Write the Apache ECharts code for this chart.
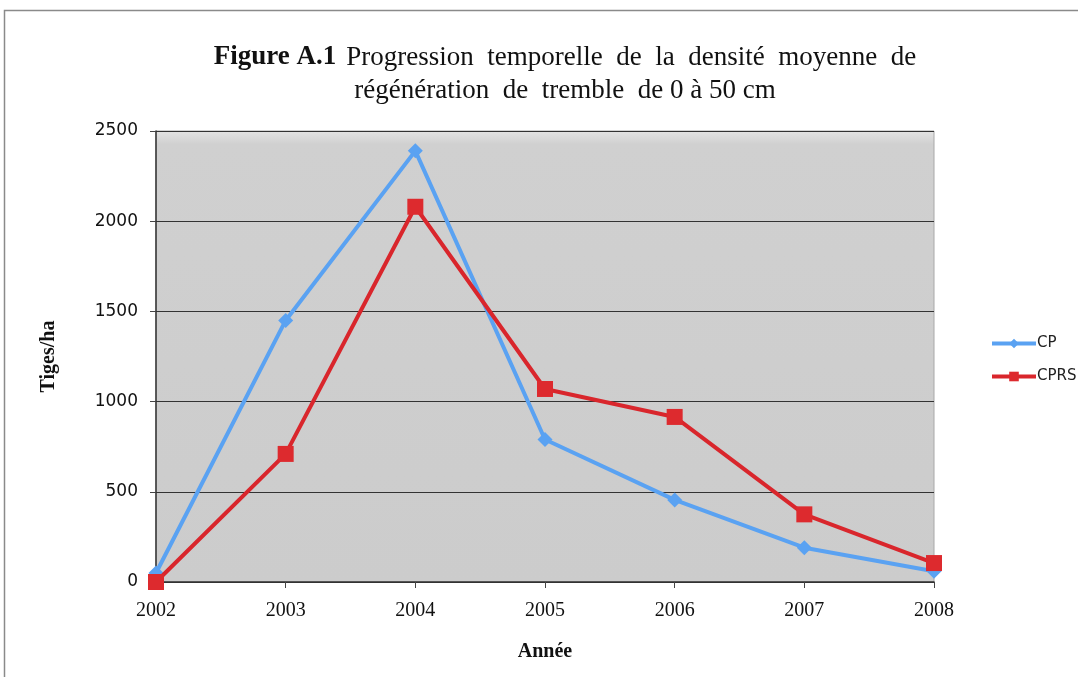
<!DOCTYPE html>
<html>
<head>
<meta charset="utf-8">
<script src="https://cdn.jsdelivr.net/npm/echarts@6/dist/echarts.min.js"></script>
<style>
  html, body { margin: 0; padding: 0; background: #fff; }
  #chart { width: 1078px; height: 677px; }
</style>
</head>
<body>
<div id="chart"></div>
<script>
const years = ['2002', '2003', '2004', '2005', '2006', '2007', '2008']
const cpValues = [50, 1450, 2390, 790, 455, 190, 60]
const cprsValues = [0, 710, 2080, 1070, 915, 375, 105]
const yTicks = [0, 500, 1000, 1500, 2000, 2500]

const chart = echarts.init(document.getElementById('chart'))
const serif = '"Liberation Serif", "DejaVu Serif", serif'
const sans = '"DejaVu Sans", Verdana, sans-serif'

const option = {
  backgroundColor: '#fff',
  animation: false,
  graphic: [
    {
      type: 'rect',
      shape: { x: 4.5, y: 10.5, width: 1100, height: 700 },
      style: { fill: 'none', stroke: '#8a8a8a', lineWidth: 1.5 },
      silent: true
    }
  ],
  title: {
    left: 560,
    top: 36,
    textAlign: 'center',
    text: '{b|Figure A.1}  {r|Progression  temporelle  de  la  densité  moyenne  de}\n{r|régénération  de  tremble  de 0 à 50 cm}',
    textStyle: {
      align: 'center',
      rich: {
        b: { fontFamily: serif, fontSize: 27, fontWeight: 'bold', color: '#111', lineHeight: 33 },
        r: { fontFamily: serif, fontSize: 27, fontWeight: 'normal', color: '#111', lineHeight: 33 }
      }
    }
  },
  grid: {
    left: 156,
    right: 144,
    top: 131,
    bottom: 95,
    show: true,
    backgroundColor: new echarts.graphic.LinearGradient(0, 0, 0, 1, [
      { offset: 0, color: '#e4e4e4' },
      { offset: 0.03, color: '#d0d0d0' },
      { offset: 1, color: '#cccccc' }
    ]),
    borderColor: '#a8a8a8',
    borderWidth: 1
  },
  legend: {
    orient: 'vertical',
    left: 985,
    top: 331,
    itemGap: 18,
    itemWidth: 44,
    itemHeight: 12,
    lineStyle: { width: 4 },
    textStyle: { fontFamily: sans, fontSize: 15, color: '#222', padding: [0, 0, 0, -4] },
    data: ['CP', 'CPRS']
  },
  xAxis: {
    type: 'category',
    data: years,
    boundaryGap: false,
    name: 'Année',
    nameLocation: 'middle',
    nameGap: 60,
    nameTextStyle: { fontFamily: serif, fontSize: 20, fontWeight: 'bold', color: '#111' },
    axisLine: { lineStyle: { color: '#333', width: 1.5 } },
    axisTick: { show: true, length: 6, lineStyle: { color: '#444' } },
    axisLabel: { fontFamily: serif, fontSize: 20, color: '#111', margin: 19 },
    splitLine: { show: false }
  },
  yAxis: {
    type: 'value',
    min: 0,
    max: 2500,
    interval: 500,
    name: 'Tiges/ha',
    nameLocation: 'middle',
    nameGap: 97,
    nameTextStyle: { fontFamily: serif, fontSize: 20, fontWeight: 'bold', color: '#111' },
    axisLine: { show: true, lineStyle: { color: '#333', width: 1.5 } },
    axisTick: { show: true, length: 6, lineStyle: { color: '#444' } },
    axisLabel: {
      fontFamily: sans,
      fontSize: 17,
      color: '#111',
      margin: 18,
      formatter: v => (yTicks.includes(v) ? String(v) : '')
    },
    splitLine: { show: true, lineStyle: { color: '#333', width: 1 } }
  },
  series: [
    {
      name: 'CP',
      type: 'line',
      data: cpValues,
      symbol: 'diamond',
      symbolSize: 15,
      lineStyle: { color: '#5aa2f2', width: 4 },
      itemStyle: { color: '#5aa2f2' },
      z: 2
    },
    {
      name: 'CPRS',
      type: 'line',
      data: cprsValues,
      symbol: 'rect',
      symbolSize: 16,
      lineStyle: { color: '#d9262c', width: 4 },
      itemStyle: { color: '#dd2a2e' },
      z: 3
    }
  ]
}
chart.setOption(option)
</script>
</body>
</html>
